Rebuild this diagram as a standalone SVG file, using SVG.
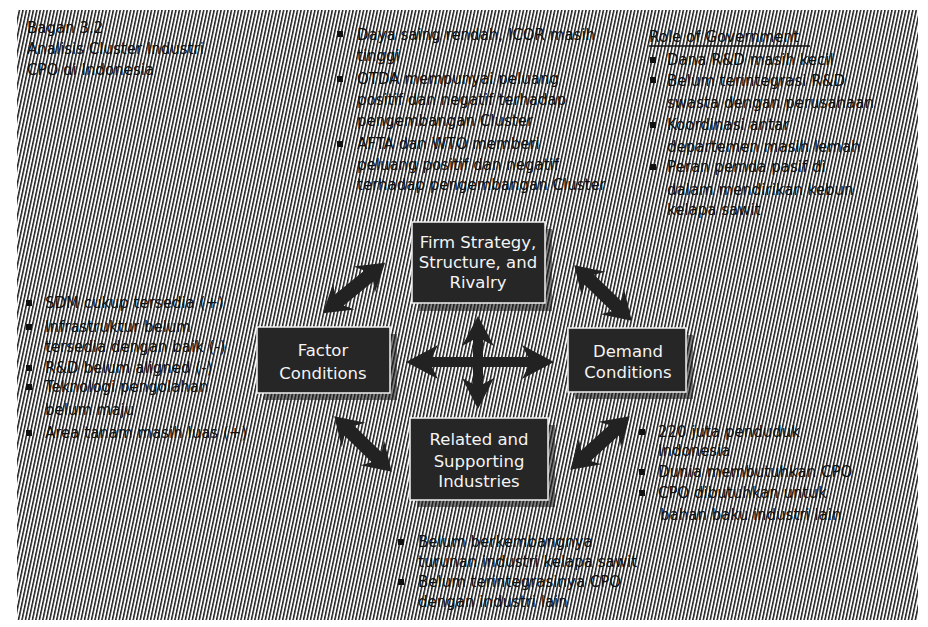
<svg xmlns="http://www.w3.org/2000/svg" xmlns:xlink="http://www.w3.org/1999/xlink" width="928" height="627" viewBox="0 0 928 627">
<style>
.t{font-family:"DejaVu Sans","Liberation Sans",sans-serif;font-size:15px;fill:#111}
.bx{fill:#262626;stroke:#f2f2f2;stroke-width:1.5}
.sh{fill:#1a1a1a;opacity:.55}
.bt{font-family:"DejaVu Sans","Liberation Sans",sans-serif;font-size:16.5px;fill:#f4f4f4;text-anchor:middle}
.bl{fill:#111}
.ar{fill:#222}
</style>
<defs>
<pattern id="hatch" width="3.4" height="12" patternUnits="userSpaceOnUse" patternTransform="rotate(12)">
<rect width="3.4" height="12" fill="#fafafa"/>
<rect width="1.5" height="12" fill="#1e1e1e"/>
</pattern>
<path id="dA" d="M -40,0 L -13,-17 L -19,-7 L 19,-7 L 13,-17 L 40,0 L 13,17 L 19,7 L -19,7 L -13,17 Z"/>
</defs>
<rect width="928" height="627" fill="#fff"/>
<rect x="17" y="10" width="901" height="610" fill="url(#hatch)"/>

<g id="title">
<text class="t" x="27" y="33">Bagan 3.2</text>
<text class="t" x="27" y="54">Analisis Cluster Industri</text>
<text class="t" x="27" y="75">CPO di Indonesia</text>
</g>

<g id="firm-notes">
<rect class="bl" x="337" y="31" width="6" height="6"/>
<text class="t" x="357" y="40">Daya saing rendah, ICOR masih</text>
<text class="t" x="357" y="61">tinggi</text>
<rect class="bl" x="337" y="76" width="6" height="6"/>
<text class="t" x="357" y="84">OTDA mempunyai peluang</text>
<text class="t" x="357" y="105">positif dan negatif terhadap</text>
<text class="t" x="357" y="126">pengembangan Cluster</text>
<rect class="bl" x="337" y="141" width="6" height="6"/>
<text class="t" x="357" y="149">AFTA dan WTO memberi</text>
<text class="t" x="357" y="170">peluang positif dan negatif</text>
<text class="t" x="357" y="190">terhadap pengembangan Cluster</text>
</g>

<g id="government">
<text class="t" x="649" y="42">Role of Government</text>
<line x1="649" y1="46" x2="810" y2="46" stroke="#111" stroke-width="1.3"/>
<rect class="bl" x="650" y="57" width="6" height="6"/>
<text class="t" x="667" y="65">Dana R&amp;D masih kecil</text>
<rect class="bl" x="650" y="77" width="6" height="6"/>
<text class="t" x="667" y="86">Belum terintegrasi R&amp;D</text>
<text class="t" x="667" y="108">swasta dengan perusahaan</text>
<rect class="bl" x="650" y="122" width="6" height="6"/>
<text class="t" x="667" y="130">Koordinasi antar</text>
<text class="t" x="667" y="152">departemen masih lemah</text>
<rect class="bl" x="650" y="164" width="6" height="6"/>
<text class="t" x="667" y="172">Peran pemda pasif di</text>
<text class="t" x="667" y="195">dalam mendirikan kebun</text>
<text class="t" x="667" y="215">kelapa sawit</text>
</g>

<g id="factor-notes">
<rect class="bl" x="26" y="300" width="6" height="6"/>
<text class="t" x="45" y="308">SDM cukup tersedia (+)</text>
<rect class="bl" x="26" y="324" width="6" height="6"/>
<text class="t" x="45" y="332">Infrastruktur belum</text>
<text class="t" x="45" y="352">tersedia dengan baik (-)</text>
<rect class="bl" x="26" y="365" width="6" height="6"/>
<text class="t" x="45" y="373">R&amp;D belum aligned (-)</text>
<rect class="bl" x="26" y="384" width="6" height="6"/>
<text class="t" x="45" y="392">Teknologi pengolahan</text>
<text class="t" x="45" y="415">belum maju</text>
<rect class="bl" x="26" y="430" width="6" height="6"/>
<text class="t" x="45" y="438">Area tanam masih luas (+)</text>
</g>

<g id="demand-notes">
<rect class="bl" x="639" y="429" width="6" height="6"/>
<text class="t" x="658" y="437">220 juta penduduk</text>
<text class="t" x="658" y="456">Indonesia</text>
<rect class="bl" x="639" y="469" width="6" height="6"/>
<text class="t" x="658" y="477">Dunia membutuhkan CPO</text>
<rect class="bl" x="639" y="490" width="6" height="6"/>
<text class="t" x="658" y="498">CPO dibutuhkan untuk</text>
<text class="t" x="660" y="520">bahan baku industri lain</text>
</g>

<g id="related-notes">
<rect class="bl" x="398" y="539" width="6" height="6"/>
<text class="t" x="418" y="547">Belum berkembangnya</text>
<text class="t" x="418" y="567">turunan industri kelapa sawit</text>
<rect class="bl" x="398" y="579" width="6" height="6"/>
<text class="t" x="418" y="587">Belum terintegrasinya CPO</text>
<text class="t" x="418" y="607">dengan industri lain</text>
</g>

<g id="connectors">
<use xlink:href="#dA" class="ar" transform="translate(354,288) rotate(-39)"/>
<use xlink:href="#dA" class="ar" transform="translate(603,293) rotate(44)"/>
<use xlink:href="#dA" class="ar" transform="translate(363,444) rotate(44)"/>
<use xlink:href="#dA" class="ar" transform="translate(600,443) rotate(-42)"/>
<path class="ar" d="M 406,362 L 438,345 L 432,357 L 528,357 L 522,345 L 554,362 L 522,379 L 528,367 L 432,367 L 438,379 Z"/>
<path class="ar" d="M 478,316 L 462,346 L 473,340 L 473,384 L 462,378 L 478,409 L 494,378 L 483,384 L 483,340 L 494,346 Z"/>
</g>

<g id="firm">
<rect class="sh" x="419" y="229" width="133" height="82"/>
<rect class="bx" x="412" y="222" width="133" height="81"/>
<text class="bt" x="478" y="248">Firm Strategy,</text>
<text class="bt" x="478" y="268">Structure, and</text>
<text class="bt" x="478" y="288">Rivalry</text>
</g>

<g id="factor">
<rect class="sh" x="264" y="334" width="133" height="66"/>
<rect class="bx" x="257" y="327" width="133" height="66"/>
<text class="bt" x="323" y="356">Factor</text>
<text class="bt" x="323" y="379">Conditions</text>
</g>

<g id="demand">
<rect class="sh" x="575" y="335" width="118" height="64"/>
<rect class="bx" x="568" y="328" width="118" height="64"/>
<text class="bt" x="628" y="357">Demand</text>
<text class="bt" x="628" y="378">Conditions</text>
</g>

<g id="related">
<rect class="sh" x="417" y="425" width="138" height="82"/>
<rect class="bx" x="410" y="418" width="138" height="82"/>
<text class="bt" x="479" y="445">Related and</text>
<text class="bt" x="479" y="467">Supporting</text>
<text class="bt" x="479" y="487">Industries</text>
</g>
</svg>
